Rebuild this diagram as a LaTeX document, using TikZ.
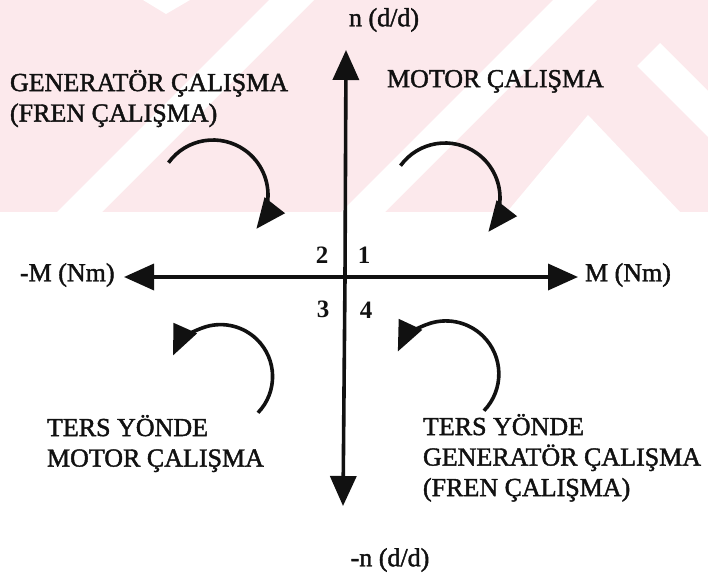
\documentclass[tikz,border=0pt]{standalone}
\usepackage{xcolor}
\usepackage{tikz}
\usepackage{fontspec}
\setmainfont{Liberation Serif}
\newfontfamily\inkfont[FakeBold=1.6]{Liberation Serif}
\usetikzlibrary{arrows.meta, positioning, calc}
\definecolor{markPink}{HTML}{FCE9EC}
\definecolor{inkBlack}{HTML}{111111}

\begin{document}
\begin{tikzpicture}[
    x=1pt, y=1pt,
    every node/.style={
        inner sep=0pt, outer sep=0pt,
        font=\inkfont\fontsize{26}{30.5}\selectfont, text=inkBlack
    },
    axis/.style={draw=inkBlack, line width=3.6pt, -{Triangle[length=30pt, width=26pt]}},
    turn/.style={draw=inkBlack, line width=3.6pt, -{Triangle[length=30pt, width=25pt]}},
    quad/.style={font=\fontsize{25}{25}\selectfont\bfseries},
    mode/.style={align=left, anchor=north west},
]
    \useasboundingbox (0,0) rectangle (708,-580);
    % watermark band
    \fill[markPink] (0,0) rectangle (708,-212);
    \fill[white] (57,-212) -- (102,-212) -- (314,0) -- (269,0) -- cycle;
    \fill[white] (341,-212) -- (385,-212) -- (597,0) -- (553,0) -- cycle;
    \fill[white] (588,-115) -- (680,-212) -- (507,-212) -- cycle;
    \fill[white] (637,-66) -- (660,-43) -- (708,-91) -- (708,-137) -- cycle;
    \fill[white] (143,0) -- (190,0) -- (166,-14) -- cycle;

    % axes
    \coordinate (o) at (345,-277);
    \coordinate (ntop) at (346,-50);
    \coordinate (nbot) at (343,-506);
    \coordinate (mleft) at (124,-277);
    \coordinate (mright) at (578,-277);
    \draw[axis] (o) -- (ntop);
    \draw[axis] (o) -- (nbot);
    \draw[axis] (o) -- (mleft);
    \draw[axis] (o) -- (mright);

    \node (npos) at (384,-20) {n (d/d)};
    \node (nneg) at (390,-560) {-n (d/d)};
    \node[anchor=west] (mneg) at (20,-275) {-M (Nm)};
    \node[anchor=west] (mpos) at (585,-275) {M (Nm)};

    % quadrant numbers
    \node[quad] (q1) at (364,-255) {1};
    \node[quad] (q2) at (322,-255) {2};
    \node[quad] (q3) at (323,-309) {3};
    \node[quad] (q4) at (366,-310) {4};

    % operating modes
    \node[mode] (gen) at (10,-70) {GENERATÖR ÇALIŞMA\\(FREN ÇALIŞMA)};
    \node[mode] (mot) at (387,-70) {MOTOR ÇALIŞMA};
    \node[mode] (rmot) at (47,-415) {TERS YÖNDE\\MOTOR ÇALIŞMA};
    \node[mode] (rgen) at (423,-414) {TERS YÖNDE\\GENERATÖR ÇALIŞMA\\(FREN ÇALIŞMA)};

    % rotation arrows
    \coordinate (c1) at (445,-198);
    \coordinate (c2) at (213,-195);
    \coordinate (c3) at (222,-378);
    \coordinate (c4) at (448,-376);
    \draw[turn] ($(c1)+(144:55)$) arc[start angle=144, end angle=-38, radius=55];
    \draw[turn] ($(c2)+(144:55)$) arc[start angle=144, end angle=-38, radius=55];
    \draw[turn] ($(c3)+(-44:50)$) arc[start angle=-44, end angle=156, radius=52];
    \draw[turn] ($(c4)+(-44:50)$) arc[start angle=-44, end angle=155, radius=53];
\end{tikzpicture}
\end{document}
